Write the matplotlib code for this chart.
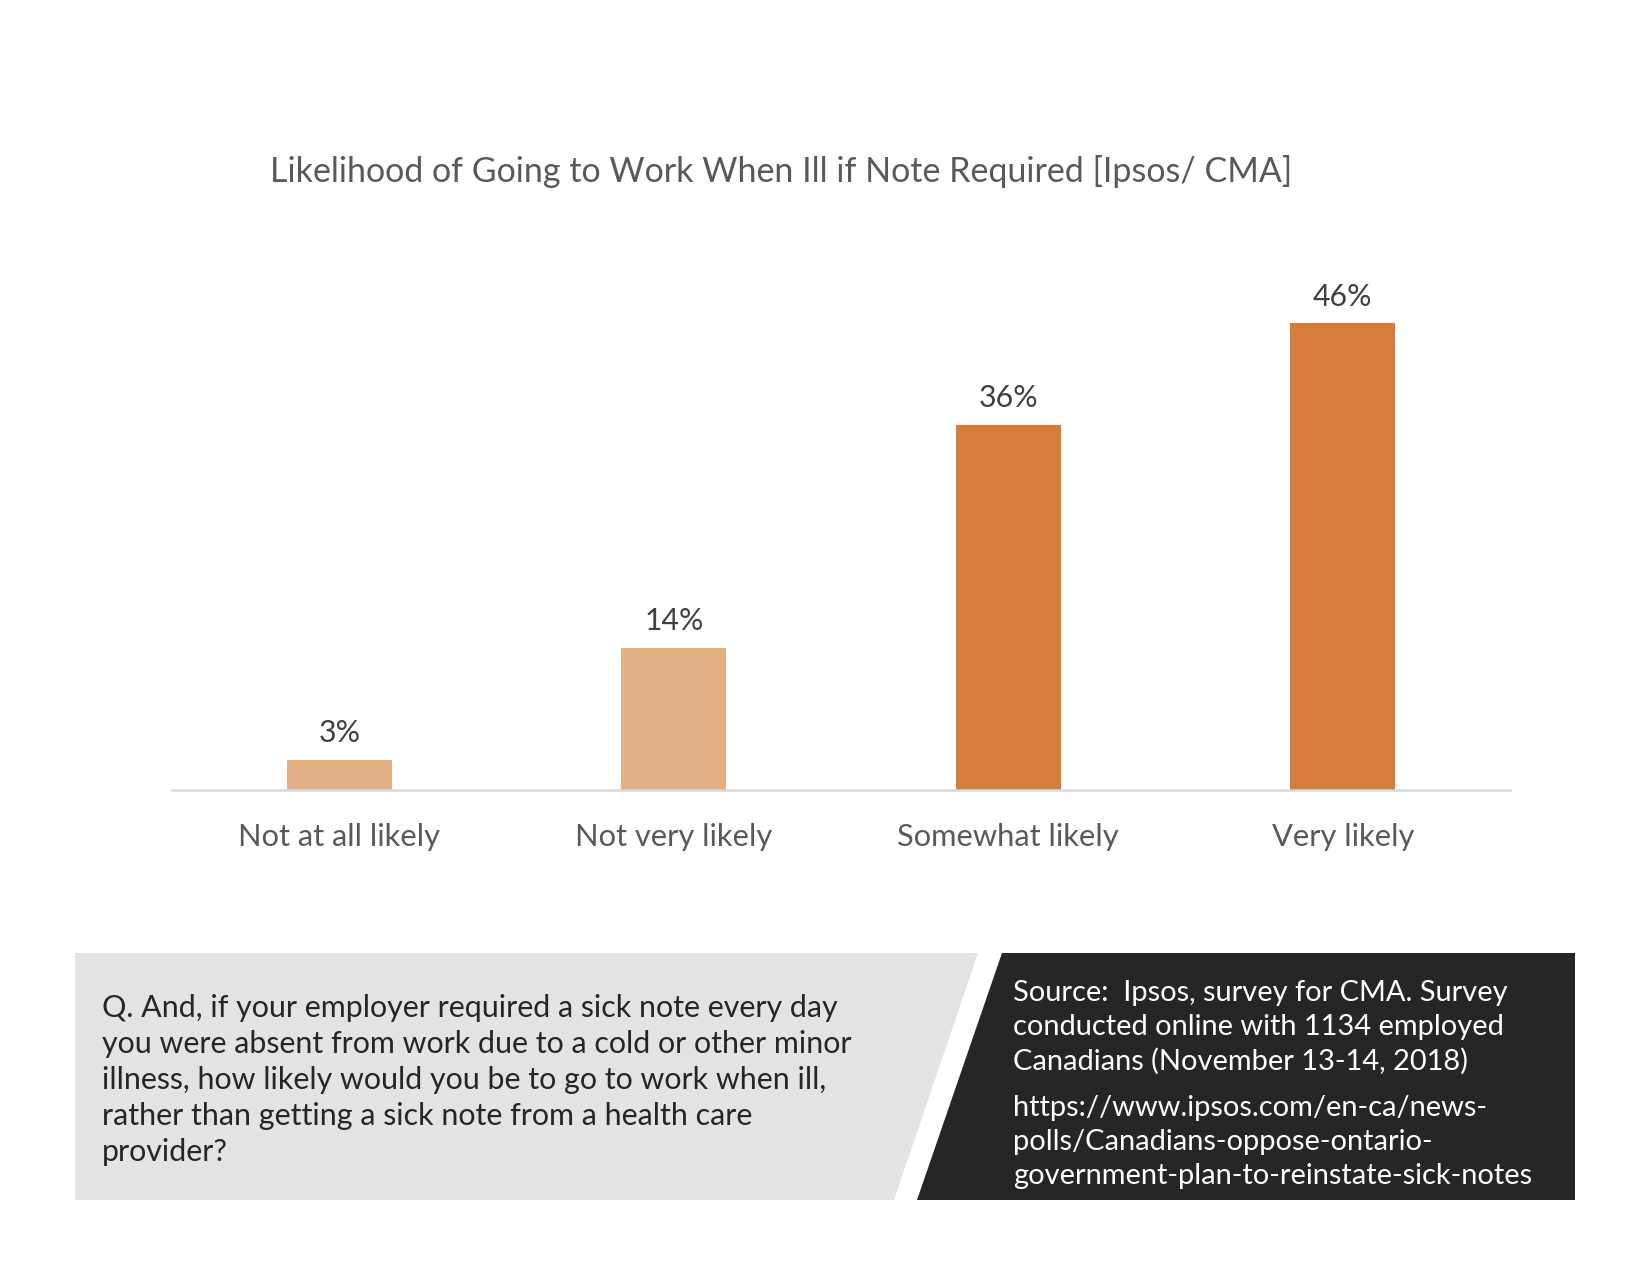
import matplotlib.pyplot as plt
from matplotlib.patches import Polygon

# Data
categories = ["Not at all likely", "Not very likely", "Somewhat likely", "Very likely"]
values = [3, 14, 36, 46]
bar_colors = ["#E3AF84", "#E3AF84", "#D57D3B", "#D57D3B"]

title = "Likelihood of Going to Work When Ill if Note Required [Ipsos/ CMA]"
question_lines = [
    "Q. And, if your employer required a sick note every day",
    "you were absent from work due to a cold or other minor",
    "illness, how likely would you be to go to work when ill,",
    "rather than getting a sick note from a health care",
    "provider?",
]
source_lines = [
    "Source:  Ipsos, survey for CMA. Survey",
    "conducted online with 1134 employed",
    "Canadians (November 13-14, 2018)",
]
url_lines = [
    "https://www.ipsos.com/en-ca/news-",
    "polls/Canadians-oppose-ontario-",
    "government-plan-to-reinstate-sick-notes",
]

plt.rcParams['font.family'] = ['Lato', 'DejaVu Sans']

W, H = 1650, 1275
fig = plt.figure(figsize=(11, 8.5), dpi=150)


def fx(x):
    return x / W


def fy(y):
    return 1 - y / H


# Axes: x from 172 to 1510 px, baseline at 790 px, ylim 0..50
y0, ytop = 790, 790 - 50 * 10.15
ax = fig.add_axes([fx(172), fy(y0), fx(1510) - fx(172), (y0 - ytop) / H])
x = list(range(len(categories)))
bars = ax.bar(x, values, width=0.314, color=bar_colors)
ax.set_xlim(-0.5, 3.5)
ax.set_ylim(0, 50)
for b, v in zip(bars, values):
    ax.annotate(f"{v}%", (b.get_x() + b.get_width() / 2, v), xytext=(0, 6),
                textcoords="offset points", ha="center", va="bottom",
                fontsize=14.5, color="#404040")
for s in ["top", "right", "left"]:
    ax.spines[s].set_visible(False)
ax.spines["bottom"].set_color("#D9D9D9")
ax.spines["bottom"].set_linewidth(1.2)
ax.set_yticks([])
ax.set_xticks(x)
ax.set_xticklabels(categories, fontsize=14.8, color="#595959")
ax.tick_params(axis="x", length=0, pad=16)

fig.text(fx(781), fy(171), title, ha="center", va="center", fontsize=16.3, color="#595959")

# Bottom panels
grey = Polygon([(fx(75), fy(953)), (fx(978), fy(953)), (fx(894), fy(1200)), (fx(75), fy(1200))],
               closed=True, transform=fig.transFigure, facecolor="#E4E3E4", edgecolor="none")
dark = Polygon([(fx(1002), fy(953)), (fx(1575), fy(953)), (fx(1575), fy(1200)), (fx(917), fy(1200))],
               closed=True, transform=fig.transFigure, facecolor="#262626", edgecolor="none")
fig.patches.extend([grey, dark])

for i, line in enumerate(question_lines):
    fig.text(fx(102), fy(1008 + i * 36), line, ha="left", va="center", fontsize=14.6, color="#262626")
for i, line in enumerate(source_lines):
    fig.text(fx(1013), fy(993 + i * 34), line, ha="left", va="center", fontsize=13.9, color="white")
for i, line in enumerate(url_lines):
    fig.text(fx(1013), fy(1108 + i * 34), line, ha="left", va="center", fontsize=13.9, color="white")

fig.savefig("out.png", dpi=150, facecolor="white")
